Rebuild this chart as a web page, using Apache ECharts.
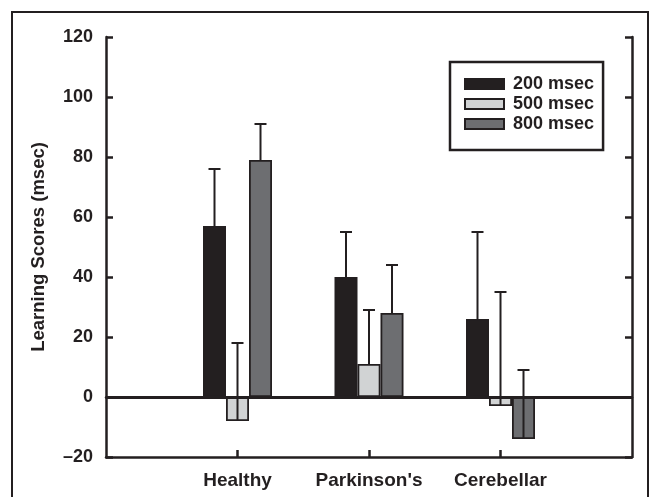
<!DOCTYPE html>
<html>
<head>
<meta charset="utf-8">
<script src="https://cdn.jsdelivr.net/npm/echarts@6/dist/echarts.min.js"></script>
<style>
  html, body { margin: 0; padding: 0; background: #fff; }
  #chart { width: 650px; height: 497px; }
</style>
</head>
<body>
<div id="chart"></div>
<script>
// padded categories so the three groups sit on the interior ticks
const categories = ["", "Healthy", "Parkinson's", "Cerebellar", ""];
const seriesNames = ["200 msec", "500 msec", "800 msec"];
const scores200 = [null, 57, 40, 26, null];
const scores500 = [null, -8, 11, -3, null];
const scores800 = [null, 79, 28, -14, null];
// top end of each error bar
const errTop200 = [null, 76, 55, 55, null];
const errTop500 = [null, 18, 29, 35, null];
const errTop800 = [null, 91, 44, 9, null];
const yTicks = [-20, 0, 20, 40, 60, 80, 100, 120];

const ink = "#231f20";
const colors = ["#231f20", "#d1d3d4", "#6d6e71"];
const barW = 23;
const font = "Liberation Sans";

const chart = echarts.init(document.getElementById("chart"));

const makeBar = (name, data, color) => ({
  name,
  type: "bar",
  data,
  barWidth: barW,
  barGap: "0%",
  itemStyle: { color, borderColor: ink, borderWidth: 1.8 },
  z: 2,
});

const makeErr = (values, tops, offset) => ({
  type: "custom",
  z: 5,
  silent: true,
  data: values
    .map((v, i) => (v === null ? null : [i, v, tops[i]]))
    .filter((d) => d !== null),
  renderItem: (params, api) => {
    const p0 = api.coord([api.value(0), api.value(1)]);
    const p1 = api.coord([api.value(0), api.value(2)]);
    const x = p0[0] + offset;
    const style = { stroke: ink, lineWidth: 2 };
    return {
      type: "group",
      children: [
        { type: "line", shape: { x1: x, y1: p0[1], x2: x, y2: p1[1] }, style },
        { type: "line", shape: { x1: x - 6, y1: p1[1], x2: x + 6, y2: p1[1] }, style },
      ],
    };
  },
});

const option = {
  animation: false,
  grid: { left: 106, right: 18, top: 37, bottom: 40 },
  graphic: [
    {
      type: "rect",
      shape: { x: 12, y: 12, width: 636, height: 500 },
      style: { fill: "none", stroke: ink, lineWidth: 2 },
      silent: true,
    },
  ],
  legend: {
    orient: "vertical",
    left: 450,
    top: 62,
    data: seriesNames,
    icon: "rect",
    itemWidth: 39,
    itemHeight: 10,
    itemGap: 2,
    borderColor: ink,
    borderWidth: 2.5,
    padding: [13, 9, 17, 14],
    backgroundColor: "#fff",
    textStyle: {
      fontFamily: font,
      fontWeight: "bold",
      fontSize: 18,
      lineHeight: 18,
      color: ink,
      padding: [0, 0, 0, 4],
    },
  },
  xAxis: [
    {
      type: "category",
      data: categories,
      boundaryGap: false,
      axisLine: { onZero: false, lineStyle: { color: ink, width: 2.5 } },
      axisTick: {
        inside: true,
        length: 7,
        alignWithLabel: true,
        interval: (i) => i > 0 && i < categories.length - 1,
        lineStyle: { color: ink, width: 2.5 },
      },
      axisLabel: {
        interval: 0,
        margin: 14,
        fontFamily: font,
        fontWeight: "bold",
        fontSize: 19,
        color: ink,
      },
      splitLine: { show: false },
    },
    {
      type: "category",
      data: categories,
      position: "top",
      boundaryGap: false,
      axisLine: { lineStyle: { color: ink, width: 2.5 } },
      axisTick: { show: false },
      axisLabel: { show: false },
    },
  ],
  yAxis: [
    {
      type: "value",
      min: yTicks[0],
      max: yTicks[yTicks.length - 1],
      interval: 20,
      name: "Learning Scores (msec)",
      nameLocation: "middle",
      nameGap: 58,
      nameRotate: 90,
      nameTextStyle: {
        fontFamily: font,
        fontWeight: "bold",
        fontSize: 18.5,
        color: ink,
      },
      axisLine: { show: true, onZero: false, lineStyle: { color: ink, width: 2.5 } },
      axisTick: { show: true, inside: true, length: 7, lineStyle: { color: ink, width: 2.5 } },
      axisLabel: {
        margin: 13,
        fontFamily: font,
        fontWeight: "bold",
        fontSize: 18,
        color: ink,
        formatter: (v) => (v < 0 ? "\u2013" + Math.abs(v) : String(v)),
      },
      splitLine: { show: false },
    },
    {
      type: "value",
      position: "right",
      min: yTicks[0],
      max: yTicks[yTicks.length - 1],
      interval: 20,
      axisLine: { show: true, onZero: false, lineStyle: { color: ink, width: 2.5 } },
      axisTick: { show: true, inside: true, length: 7, lineStyle: { color: ink, width: 2.5 } },
      axisLabel: { show: false },
      splitLine: { show: false },
    },
  ],
  series: [
    {
      ...makeBar(seriesNames[0], scores200, colors[0]),
      markLine: {
        silent: true,
        symbol: "none",
        label: { show: false },
        lineStyle: { color: ink, width: 2.8, type: "solid" },
        data: [{ yAxis: 0 }],
        z: 4,
      },
    },
    makeBar(seriesNames[1], scores500, colors[1]),
    makeBar(seriesNames[2], scores800, colors[2]),
    makeErr(scores200, errTop200, -barW),
    makeErr(scores500, errTop500, 0),
    makeErr(scores800, errTop800, barW),
  ],
};

chart.setOption(option);
</script>
</body>
</html>
